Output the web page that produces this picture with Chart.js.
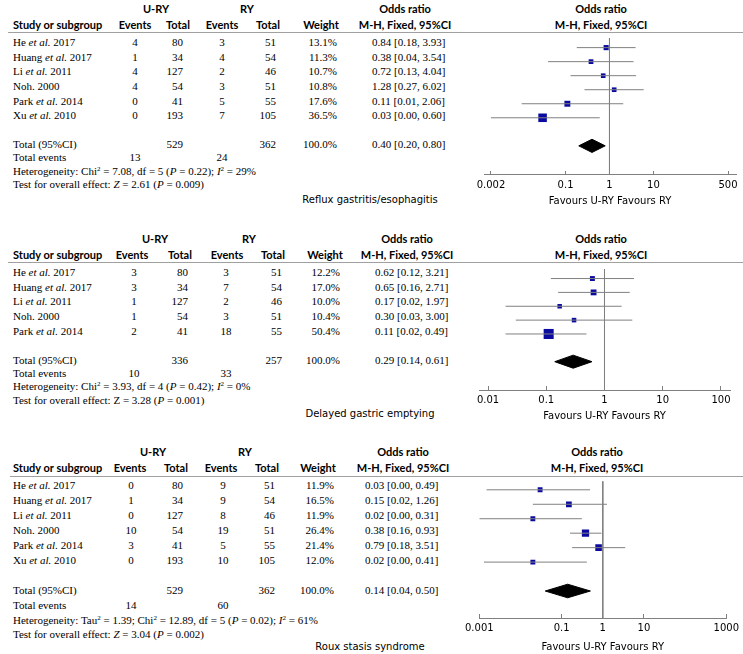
<!DOCTYPE html>
<html>
<head>
<meta charset="utf-8">
<script src="https://cdn.jsdelivr.net/npm/chart.js@4.4.0/dist/chart.umd.min.js"></script>
<style>
  html, body { margin: 0; padding: 0; background: #fff; }
  #page { position: relative; width: 743px; height: 654px; overflow: hidden; background: #fff; }
  .t { position: absolute; white-space: nowrap; line-height: 14px; height: 14px; color: #000; }
  .serif { font-family: 'Liberation Serif', serif; font-size: 11px; }
  .hd { font-family: 'Lato', sans-serif; font-weight: bold; font-size: 11px; }
  .sn { font-family: 'DejaVu Sans', sans-serif; font-size: 10px; }
  .rule { position: absolute; height: 1px; background: #a0a0a0; }
  sup { font-size: 7px; line-height: 0; vertical-align: 4px; }
  canvas { position: absolute; }
</style>
</head>
<body>
<div id="page"></div>
<script>
// Reflux gastritis/esophagitis
const refluxStudies = ['He et al. 2017', 'Huang et al. 2017', 'Li et al. 2011', 'Noh. 2000', 'Park et al. 2014', 'Xu et al. 2010'];
const refluxUryEvents = [4, 1, 4, 4, 0, 0];
const refluxUryTotal = [80, 34, 127, 54, 41, 193];
const refluxRyEvents = [3, 4, 2, 3, 5, 7];
const refluxRyTotal = [51, 54, 46, 51, 55, 105];
const refluxWeight = [13.1, 11.3, 10.7, 10.8, 17.6, 36.5];
const refluxOR = [0.84, 0.38, 0.72, 1.28, 0.11, 0.03];
const refluxLow = [0.18, 0.04, 0.13, 0.27, 0.01, 0.002];
const refluxHigh = [3.93, 3.54, 4.04, 6.02, 2.06, 0.60];
const refluxPooled = [0.40, 0.20, 0.80];
const refluxTotals = [529, 362];
const refluxTotalEvents = [13, 24];
const refluxHet = 'Heterogeneity: Chi<sup>2</sup> = 7.08, df = 5 (<i>P</i> = 0.22); <i>I</i><sup>2</sup> = 29%';
const refluxTest = 'Test for overall effect: <i>Z</i> = 2.61 (<i>P</i> = 0.009)';
const refluxTicks = [0.002, 0.1, 1, 10, 500];
const refluxTickLabels = ['0.002', '0.1', '1', '10', '500'];

// Delayed gastric emptying
const delayedStudies = ['He et al. 2017', 'Huang et al. 2017', 'Li et al. 2011', 'Noh. 2000', 'Park et al. 2014'];
const delayedUryEvents = [3, 3, 1, 1, 2];
const delayedUryTotal = [80, 34, 127, 54, 41];
const delayedRyEvents = [3, 7, 2, 3, 18];
const delayedRyTotal = [51, 54, 46, 51, 55];
const delayedWeight = [12.2, 17.0, 10.0, 10.4, 50.4];
const delayedOR = [0.62, 0.65, 0.17, 0.30, 0.11];
const delayedLow = [0.12, 0.16, 0.02, 0.03, 0.02];
const delayedHigh = [3.21, 2.71, 1.97, 3.00, 0.49];
const delayedPooled = [0.29, 0.14, 0.61];
const delayedTotals = [336, 257];
const delayedTotalEvents = [10, 33];
const delayedHet = 'Heterogeneity: Chi<sup>2</sup> = 3.93, df = 4 (<i>P</i> = 0.42); <i>I</i><sup>2</sup> = 0%';
const delayedTest = 'Test for overall effect: Z = 3.28 (<i>P</i> = 0.001)';
const delayedTicks = [0.01, 0.1, 1, 10, 100];
const delayedTickLabels = ['0.01', '0.1', '1', '10', '100'];

// Roux stasis syndrome
const rouxStudies = ['He et al. 2017', 'Huang et al. 2017', 'Li et al. 2011', 'Noh. 2000', 'Park et al. 2014', 'Xu et al. 2010'];
const rouxUryEvents = [0, 1, 0, 10, 3, 0];
const rouxUryTotal = [80, 34, 127, 54, 41, 193];
const rouxRyEvents = [9, 9, 8, 19, 5, 10];
const rouxRyTotal = [51, 54, 46, 51, 55, 105];
const rouxWeight = [11.9, 16.5, 11.9, 26.4, 21.4, 12.0];
const rouxOR = [0.03, 0.15, 0.02, 0.38, 0.79, 0.02];
const rouxLow = [0.0015, 0.02, 0.001, 0.16, 0.18, 0.0013];
const rouxHigh = [0.49, 1.26, 0.31, 0.93, 3.51, 0.41];
const rouxPooled = [0.14, 0.04, 0.50];
const rouxTotals = [529, 362];
const rouxTotalEvents = [14, 60];
const rouxHet = 'Heterogeneity: Tau<sup>2</sup> = 1.39; Chi<sup>2</sup> = 12.89, df = 5 (<i>P</i> = 0.02); <i>I</i><sup>2</sup> = 61%';
const rouxTest = 'Test for overall effect: <i>Z</i> = 3.04 (<i>P</i> = 0.002)';
const rouxTicks = [0.001, 0.1, 1, 10, 1000];
const rouxTickLabels = ['0.001', '0.1', '1', '10', '1000'];

const panels = [
  { title: 'Reflux gastritis/esophagitis', studies: refluxStudies, ue: refluxUryEvents, ut: refluxUryTotal, re: refluxRyEvents, rt: refluxRyTotal,
    w: refluxWeight, or: refluxOR, lo: refluxLow, hi: refluxHigh, pooled: refluxPooled, totals: refluxTotals, events: refluxTotalEvents,
    het: refluxHet, test: refluxTest, ticks: refluxTicks, tickLabels: refluxTickLabels },
  { title: 'Delayed gastric emptying', studies: delayedStudies, ue: delayedUryEvents, ut: delayedUryTotal, re: delayedRyEvents, rt: delayedRyTotal,
    w: delayedWeight, or: delayedOR, lo: delayedLow, hi: delayedHigh, pooled: delayedPooled, totals: delayedTotals, events: delayedTotalEvents,
    het: delayedHet, test: delayedTest, ticks: delayedTicks, tickLabels: delayedTickLabels },
  { title: 'Roux stasis syndrome', studies: rouxStudies, ue: rouxUryEvents, ut: rouxUryTotal, re: rouxRyEvents, rt: rouxRyTotal,
    w: rouxWeight, or: rouxOR, lo: rouxLow, hi: rouxHigh, pooled: rouxPooled, totals: rouxTotals, events: rouxTotalEvents,
    het: rouxHet, test: rouxTest, ticks: rouxTicks, tickLabels: rouxTickLabels }
];

// page geometry for each panel (pixels)
// cols: study, U-RY events (center), U-RY total (right), RY events (center), RY total (right), weight (right), OR text (left)
// hcols: U-RY, RY, Events, Total, Events, Total, Weight, OR header, plot header (centers)
const layout = [
  { top: 32, row0: 42, step: 14.65, axis: 175, axisH: 32, hdr1: 9, hdr2: 25, total: 144, events: 157, het: 171, test: 184, title: 200,
    cols: [13, 135, 183, 222, 276, 337, 372], hcols: [156, 247, 135, 178, 222, 268, 321, 405, 601],
    plotL: 484, plotR: 736, xMin: 0.00139, xMax: 760, ruleL: 8 },
  { top: 262, row0: 272, step: 14.67, axis: 390, axisH: 32, hdr1: 239, hdr2: 255, total: 360, events: 373, het: 386, test: 400, title: 414,
    cols: [13, 134, 188, 226, 282, 340, 375], hcols: [155, 249, 132, 180, 227, 273, 325, 407, 601],
    plotL: 479, plotR: 730, xMin: 0.0070, xMax: 143, ruleL: 8 },
  { top: 476, row0: 485, step: 15, axis: 618, axisH: 35, hdr1: 452, hdr2: 468, total: 590, events: 605, het: 620, test: 634, title: 647,
    cols: [13, 131, 183, 223, 275, 334, 365], hcols: [153, 245, 130, 176, 221, 267, 318, 403, 597],
    plotL: 477, plotR: 727, xMin: 0.001, xMax: 1000, ruleL: 10 }
];

const page = document.getElementById('page');

function put(x, y, html, cls, align) {
  const el = document.createElement('div');
  el.className = 't ' + cls;
  el.innerHTML = html;
  el.style.top = (y - 7) + 'px';
  if (align === 'center') {
    el.style.left = x + 'px';
    el.style.transform = 'translateX(-50%)';
  } else if (align === 'right') {
    el.style.right = (743 - x) + 'px';
  } else {
    el.style.left = x + 'px';
  }
  page.appendChild(el);
}

function fmt(v) { return v.toFixed(2); }

function drawTable(p, L) {
  const c = L.cols, h = L.hcols;
  put(h[0], L.hdr1, 'U-RY', 'hd', 'center');
  put(h[1], L.hdr1, 'RY', 'hd', 'center');
  put(h[7], L.hdr1, 'Odds ratio', 'hd', 'center');
  put(h[8], L.hdr1, 'Odds ratio', 'hd', 'center');
  put(c[0], L.hdr2, 'Study or subgroup', 'hd', 'left');
  put(h[2], L.hdr2, 'Events', 'hd', 'center');
  put(h[3], L.hdr2, 'Total', 'hd', 'center');
  put(h[4], L.hdr2, 'Events', 'hd', 'center');
  put(h[5], L.hdr2, 'Total', 'hd', 'center');
  put(h[6], L.hdr2, 'Weight', 'hd', 'center');
  put(h[7], L.hdr2, 'M-H, Fixed, 95%CI', 'hd', 'center');
  put(h[8], L.hdr2, 'M-H, Fixed, 95%CI', 'hd', 'center');

  const rule = document.createElement('div');
  rule.className = 'rule';
  rule.style.left = L.ruleL + 'px';
  rule.style.width = (743 - L.ruleL) + 'px';
  rule.style.top = L.top + 'px';
  page.appendChild(rule);

  p.studies.forEach((s, i) => {
    const y = L.row0 + i * L.step;
    put(c[0], y, s.replace(' et al.', ' <i>et al.</i>'), 'serif', 'left');
    put(c[1], y, p.ue[i], 'serif', 'center');
    put(c[2], y, p.ut[i], 'serif', 'right');
    put(c[3], y, p.re[i], 'serif', 'center');
    put(c[4], y, p.rt[i], 'serif', 'right');
    put(c[5], y, p.w[i].toFixed(1) + '%', 'serif', 'right');
    put(c[6], y, fmt(p.or[i]) + ' [' + fmt(p.lo[i]) + ', ' + fmt(p.hi[i]) + ']', 'serif', 'left');
  });

  put(c[0], L.total, 'Total (95%CI)', 'serif', 'left');
  put(c[2], L.total, p.totals[0], 'serif', 'right');
  put(c[4], L.total, p.totals[1], 'serif', 'right');
  put(c[5], L.total, '100.0%', 'serif', 'right');
  put(c[6], L.total, fmt(p.pooled[0]) + ' [' + fmt(p.pooled[1]) + ', ' + fmt(p.pooled[2]) + ']', 'serif', 'left');
  put(c[0], L.events, 'Total events', 'serif', 'left');
  put(c[1], L.events, p.events[0], 'serif', 'center');
  put(c[3], L.events, p.events[1], 'serif', 'center');
  put(c[0], L.het, p.het, 'serif', 'left');
  put(c[0], L.test, p.test, 'serif', 'left');
  put(370, L.title, p.title, 'sn', 'center');
}

function drawForest(p, L) {
  const padX = 20;
  const yMin = (L.top - L.row0) / L.step;
  const yMax = (L.axis - L.row0) / L.step;
  const totalRow = p.studies.length + 1;
  const w = L.plotR - L.plotL + 2 * padX;
  const h = L.axis - L.top + L.axisH;

  const canvas = document.createElement('canvas');
  canvas.width = w;
  canvas.height = h;
  canvas.style.left = (L.plotL - padX) + 'px';
  canvas.style.top = L.top + 'px';
  canvas.style.width = w + 'px';
  canvas.style.height = h + 'px';
  page.appendChild(canvas);

  const grey = '#808080';
  const ciSets = p.or.map((v, i) => ({
    type: 'line',
    data: [{ x: p.lo[i], y: i }, { x: p.hi[i], y: i }],
    borderColor: grey, borderWidth: 1, pointRadius: 0
  }));
  const [est, lo, hi] = p.pooled;

  new Chart(canvas, {
    type: 'scatter',
    data: {
      datasets: [
        {
          type: 'line',
          data: [{ x: 1, y: yMin }, { x: 1, y: yMax }],
          borderColor: grey, borderWidth: 1, pointRadius: 0
        },
        ...ciSets,
        {
          type: 'scatter',
          data: p.or.map((v, i) => ({ x: v, y: i })),
          pointStyle: 'rect',
          pointRadius: p.w.map(v => Math.sqrt(v)),
          backgroundColor: '#0a0aa0',
          borderWidth: 0
        },
        {
          type: 'line',
          data: [{ x: lo, y: totalRow }, { x: est, y: totalRow - 0.47 }, { x: hi, y: totalRow },
                 { x: est, y: totalRow + 0.47 }, { x: lo, y: totalRow }],
          borderColor: '#000', backgroundColor: '#000', borderWidth: 1,
          pointRadius: 0, fill: 'shape', tension: 0
        }
      ]
    },
    options: {
      responsive: false,
      animation: false,
      events: [],
      layout: { padding: { left: padX, right: padX, top: 0, bottom: 0 } },
      plugins: { legend: { display: false }, tooltip: { enabled: false } },
      scales: {
        y: { type: 'linear', display: false, reverse: true, min: yMin, max: yMax },
        x: {
          type: 'logarithmic',
          position: 'bottom',
          min: L.xMin,
          max: L.xMax,
          afterBuildTicks: scale => { scale.ticks = p.ticks.map(v => ({ value: v })); },
          afterFit: scale => { scale.height = L.axisH; },
          ticks: {
            autoSkip: false, maxRotation: 0, padding: 8, color: '#000',
            font: { family: 'DejaVu Sans', size: 10 },
            callback: (v, i) => p.tickLabels[i]
          },
          grid: { drawOnChartArea: false, drawTicks: true, tickLength: -4, color: grey },
          border: { color: grey, width: 1 },
          title: {
            display: true, text: 'Favours U-RY Favours RY', color: '#000',
            font: { family: 'DejaVu Sans', size: 10 }, padding: { top: 0, bottom: 0 }
          }
        }
      }
    }
  });
}

panels.forEach((p, i) => {
  drawTable(p, layout[i]);
  drawForest(p, layout[i]);
});
</script>
</body>
</html>
